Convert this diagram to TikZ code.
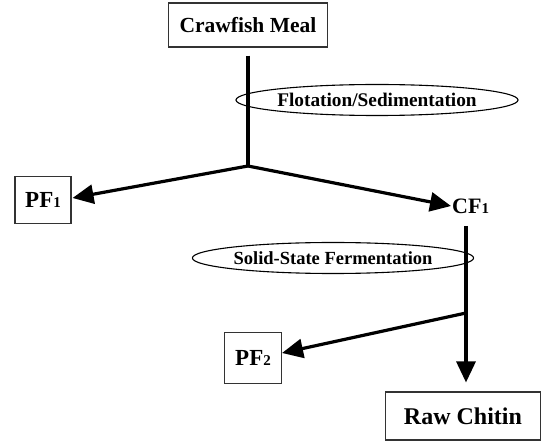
\documentclass[tikz,border=0pt]{standalone}
\usepackage{fontspec}
\setmainfont{Liberation Serif}
\usetikzlibrary{arrows.meta,shapes.geometric}
\newcommand{\fs}[1]{\fontsize{#1}{#1}\selectfont}
\newcommand{\sub}[1]{{\fs{15}#1}}
\tikzset{
  box/.style={draw=black!80, line width=1.1pt, inner sep=0pt, font=\bfseries},
  oval/.style={ellipse, draw, line width=1.1pt, inner sep=0pt, font=\bfseries},
  flow/.style={line width=3.2pt, line cap=butt},
  arr/.style={flow, -{Triangle[length=21pt,width=19pt]}}
}
\begin{document}
\begin{tikzpicture}[x=1pt,y=-1pt]
\useasboundingbox (0,0) rectangle (542,441);
\node[box, minimum width=159pt, minimum height=44pt, font=\bfseries\fs{21.5}] (meal) at (248,25) {Crawfish Meal};
\node[box, minimum width=56pt, minimum height=47pt, font=\bfseries\fs{23}] (pf1) at (43,200) {PF\sub{1}};
\node[inner sep=1pt, font=\bfseries\fs{22}, anchor=west] (cf1) at (451,206) {CF\sub{1}};
\node[box, minimum width=57pt, minimum height=51pt, font=\bfseries\fs{23}] (pf2) at (253,358) {PF\sub{2}};
\node[box, minimum width=155pt, minimum height=48pt, font=\bfseries\fs{24}] (chitin) at (463,416) {Raw Chitin};
\node[oval, minimum width=212pt, minimum height=31pt, font=\bfseries\fs{19.3}] (flot) at (377,100) {Flotation/Sedimentation};
\node[oval, minimum width=237pt, minimum height=31pt, font=\bfseries\fs{18.5}] (ssf) at (333,258) {Solid-State Fermentation};
\coordinate (j1) at (248,166);
\coordinate (j2) at (466,313);
\draw[flow] ([yshift=-8pt]meal.south) -- (j1);
\draw[arr] (j1) -- ([xshift=1pt,yshift=2pt]pf1.east);
\draw[arr] (j1) -- (cf1.west);
\draw[flow] ([xshift=15pt,yshift=-20pt]cf1.west) -- (j2);
\draw[arr] (j2) -- ([yshift=5pt]pf2.east);
\draw[arr] (j2) -- ([yshift=9pt]chitin.north -| j2);
\end{tikzpicture}
\end{document}
